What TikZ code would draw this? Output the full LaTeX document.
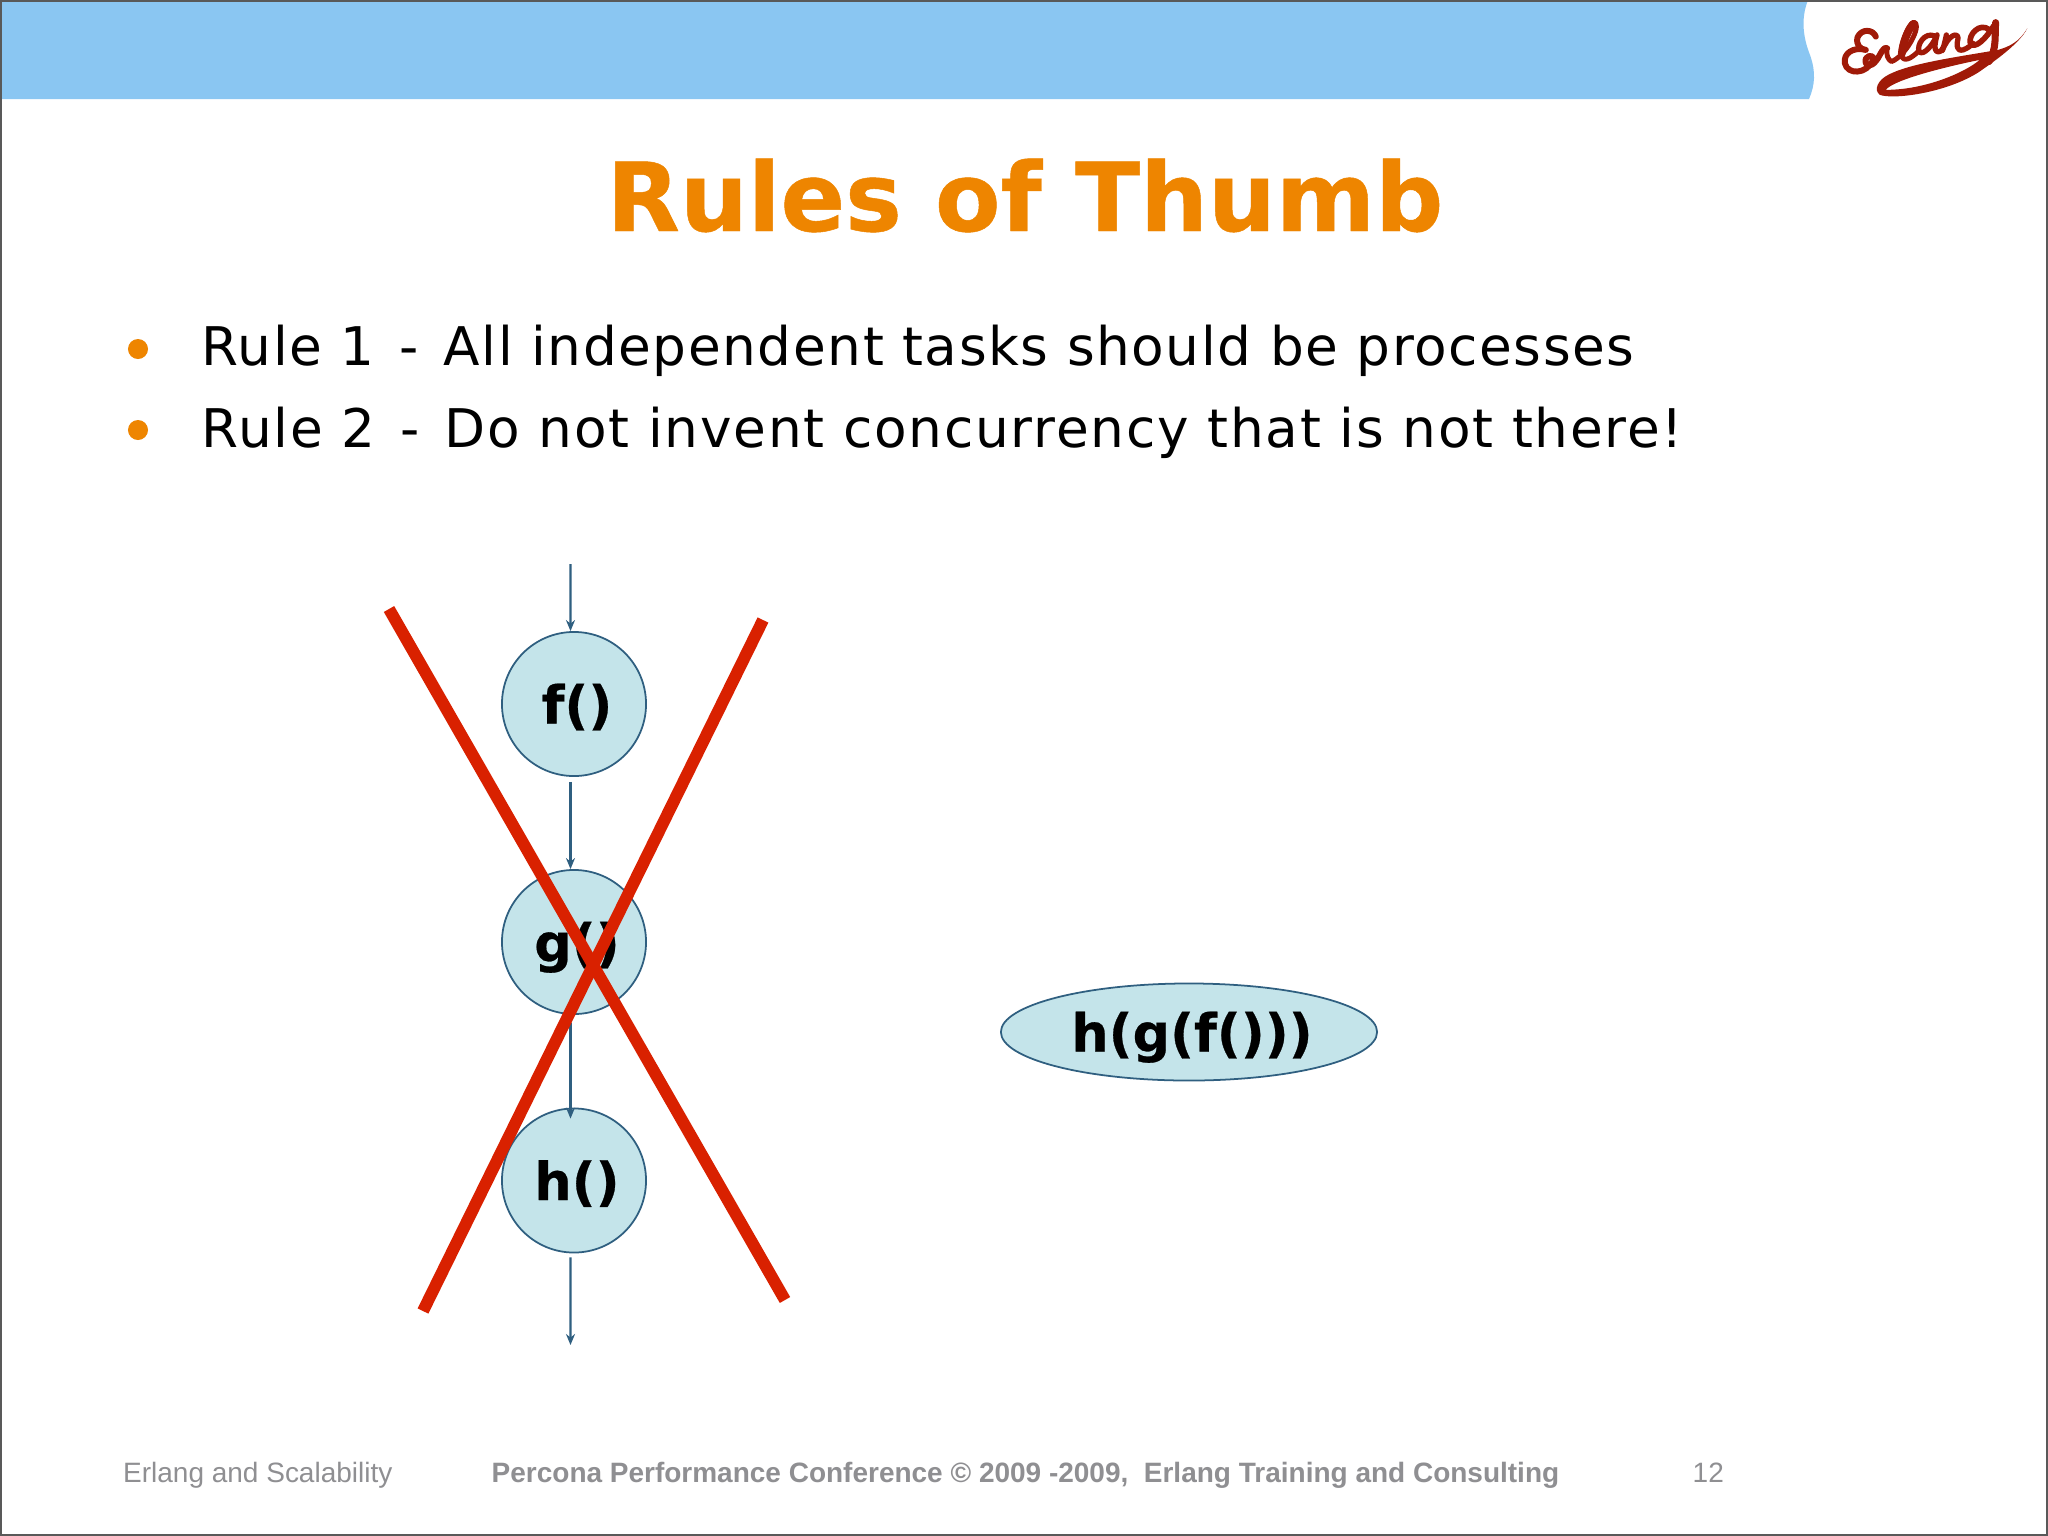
\documentclass[tikz,border=0pt]{standalone}
\usepackage{fontspec}
\usetikzlibrary{arrows.meta,shapes.geometric}
\setmainfont{DejaVu Sans}
\newfontfamily\footfont{Liberation Sans}
\newfontfamily\rulefont[LetterSpace=2.95]{DejaVu Sans}
\newfontfamily\rulewide[LetterSpace=3.3]{DejaVu Sans}
\newfontfamily\heavyfont[FakeBold=0.5]{DejaVu Sans Bold}
\newcommand{\ruledash}{\hspace{1.8pt}-\hspace{1.8pt}}
\definecolor{headblue}{HTML}{8AC6F2}
\definecolor{titleorange}{HTML}{EE8500}
\definecolor{crossred}{HTML}{D92100}
\definecolor{logored}{HTML}{A01A08}
\definecolor{nodefill}{HTML}{C4E4EA}
\definecolor{nodeline}{HTML}{2F5F80}
\definecolor{footgray}{HTML}{8F8F92}
\tikzset{
	func/.style={draw=nodeline,fill=nodefill,line width=0.5pt,inner sep=0pt,text height=0.39cm,text depth=0cm,font=\fontsize{14.9}{16}\heavyfont,execute at begin node={\hspace*{0.06cm}}},
	flow/.style={-{Stealth[length=1.1mm,width=0.9mm]},draw=nodeline,line width=0.6pt},
	cross/.style={draw=crossred,line width=3.4pt},
	rule/.style={anchor=base west,inner sep=0pt,font=\fontsize{15.15}{18}\rulefont},
	dot/.style={circle,fill=titleorange,inner sep=0pt,minimum size=0.2cm},
	foot/.style={anchor=base west,inner sep=0pt,text=footgray,font=\fontsize{7.96}{10}\selectfont\footfont},
	logopen/.style={draw=logored,line cap=round,line join=round}
}
\begin{document}
\begin{tikzpicture}[x=0.01cm,y=-0.01cm]
	\useasboundingbox (0,0) rectangle (2048,1536);
	\fill[white] (0,0) rectangle (2048,1536);
	% header band
	\fill[headblue] (0,0) -- (1808,0) .. controls (1800,20) and (1804,40) .. (1810,55) .. controls (1816,72) and (1815,85) .. (1809,99) -- (0,99) -- cycle;
	% logo
	\begin{scope}[shift={(1760,0)},x=0.00333cm,y=-0.00333cm]
		\draw[logopen,line width=1.7pt] (348,110) .. controls (340,88) and (305,85) .. (293,112) .. controls (288,135) and (300,148) .. (318,150) .. controls (280,140) and (250,160) .. (255,190) .. controls (262,225) and (320,225) .. (340,180) .. controls (345,160) and (310,165) .. (318,190) .. controls (325,205) and (345,195) .. (360,165) .. controls (368,150) and (375,140) .. (382,145);
		\draw[logopen,line width=1.4pt] (382,145) .. controls (378,165) and (385,180) .. (395,185) .. controls (435,170) and (480,90) .. (468,70) .. controls (455,50) and (420,130) .. (425,165) .. controls (430,190) and (455,175) .. (475,155);
		\draw[logopen,line width=2.2pt] (460,72) .. controls (445,90) and (428,130) .. (426,162);
		\draw[logopen,line width=1.5pt] (525,108) .. controls (495,95) and (470,135) .. (478,155) .. controls (490,170) and (520,135) .. (532,105) .. controls (525,130) and (520,160) .. (540,155) .. controls (550,150) and (555,135) .. (560,105) .. controls (556,125) and (552,140) .. (548,152) .. controls (565,105) and (595,95) .. (595,115) .. controls (590,135) and (590,155) .. (610,150) .. controls (625,145) and (635,135) .. (640,130);
		\draw[logopen,line width=1.6pt] (690,90) .. controls (660,65) and (625,105) .. (632,130) .. controls (645,150) and (680,115) .. (702,78);
		\draw[logopen,line width=2pt] (708,68) .. controls (705,110) and (712,145) .. (688,185);
		\fill[logored,even odd rule] (803,85) .. controls (780,125) and (750,140) .. (715,150) .. controls (600,170) and (450,190) .. (385,225) .. controls (355,240) and (340,270) .. (360,285) .. controls (400,300) and (560,280) .. (660,215) .. controls (680,200) and (780,135) .. (803,85) -- cycle (378,270) .. controls (400,240) and (560,200) .. (660,180) .. controls (620,215) and (500,270) .. (378,270) -- cycle;
	\end{scope}
	% frame
	\draw[gray!70!black,line width=0.6pt] (1,1) rectangle (2047,1535);
	\node[anchor=base,inner sep=0pt,text=titleorange] (title) at (1025,231) {\fontsize{27.1}{30}\heavyfont Rules of Thumb};
	\node[dot] (dot1) at (138,349) {};
	\node[rule] (rule1) at (201,365.5) {Rule 1 \ruledash{} All independent tasks should be processes};
	\node[dot] (dot2) at (138,430) {};
	\node[rule,font=\fontsize{15.15}{18}\rulewide] (rule2) at (201,447.5) {Rule 2 \ruledash{} Do not invent concurrency that is not there!};
	% the three calls
	\node[func,circle,minimum size=1.44cm] (f) at (574,704) {f()};
	\node[func,circle,minimum size=1.44cm] (g) at (574,942) {g()};
	\node[func,circle,minimum size=1.44cm] (h) at (574,1180.5) {h()};
	\coordinate (in) at (570.5,564);
	\coordinate (out) at (570.5,1345);
	\draw[flow] (in) -- ([xshift=-0.035cm]f.north);
	\draw[flow,shorten <=0.05cm] ([xshift=-0.035cm]f.south) -- ([xshift=-0.035cm]g.north);
	\draw[flow,shorten <=0.08cm,shorten >=-0.11cm] ([xshift=-0.035cm]g.south) -- ([xshift=-0.035cm]h.north);
	\draw[flow,shorten <=0.04cm] ([xshift=-0.035cm]h.south) -- (out);
	\coordinate (xa) at (389,609);
	\coordinate (xb) at (785,1300);
	\coordinate (xc) at (763,620);
	\coordinate (xd) at (423,1311);
	\draw[cross] (xa) -- (xb);
	\draw[cross] (xc) -- (xd);
	\node[func,ellipse,minimum width=3.76cm,minimum height=0.97cm] (hgf) at (1189,1032) {h(g(f()))};
	% footer
	\node[foot] (foot1) at (122.5,1482) {Erlang and Scalability};
	\node[foot] (foot2) at (491,1482) {\bfseries Percona Performance Conference © 2009 -2009,\ \ Erlang Training and Consulting};
	\node[foot] (foot3) at (1692,1482) {12};
\end{tikzpicture}
\end{document}
